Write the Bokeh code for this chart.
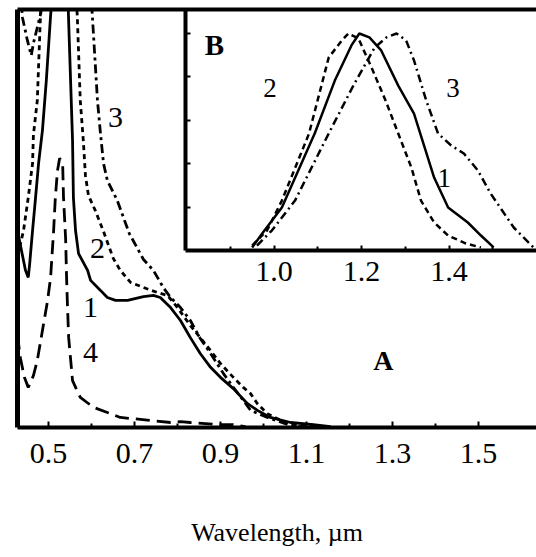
from bokeh.plotting import figure
from bokeh.models import Range1d, LinearAxis, FixedTicker, NumeralTickFormatter
from bokeh.layouts import column
from bokeh.embed import file_html
from bokeh.resources import INLINE
from bokeh.core.properties import value

FONT = "Liberation Serif"

# ---------------- Panel A (main): absorption, wavelength in um ----------------
a1_x = [0.428, 0.435, 0.4465, 0.453, 0.456, 0.463, 0.470, 0.477, 0.486, 0.495, 0.505, 0.510,
        0.528, 0.545, 0.5465, 0.556, 0.558, 0.563, 0.570, 0.591, 0.598, 0.621, 0.637, 0.656,
        0.684, 0.721, 0.744, 0.760, 0.784, 0.807, 0.830, 0.853, 0.877, 0.900, 0.930, 0.963,
        0.986, 1.016, 1.063, 1.116, 1.156]
a1_y = [0.471, 0.435, 0.376, 0.359, 0.388, 0.471, 0.550, 0.632, 0.711, 0.830, 0.986, 1.05,
        1.4, 1.05, 0.986, 0.687, 0.550, 0.471, 0.416, 0.376, 0.352, 0.328, 0.311, 0.304,
        0.304, 0.313, 0.316, 0.311, 0.287, 0.256, 0.215, 0.177, 0.144, 0.120, 0.093, 0.057,
        0.041, 0.024, 0.012, 0.007, 0.002]

a2_x = [0.428, 0.435, 0.442, 0.453, 0.463, 0.465, 0.474, 0.481, 0.484, 0.52, 0.565, 0.567,
        0.574, 0.581, 0.586, 0.593, 0.609, 0.628, 0.651, 0.667, 0.691, 0.721, 0.753, 0.777,
        0.800, 0.830, 0.853, 0.877, 0.900, 0.930, 0.953, 0.970, 0.986, 1.009, 1.040, 1.074, 1.12]
a2_y = [0.411, 0.440, 0.471, 0.550, 0.632, 0.700, 0.782, 0.974, 1.02, 1.4, 1.02, 0.986,
        0.782, 0.687, 0.603, 0.555, 0.519, 0.469, 0.404, 0.376, 0.347, 0.335, 0.323, 0.316,
        0.287, 0.244, 0.215, 0.184, 0.153, 0.120, 0.096, 0.081, 0.057, 0.033, 0.017, 0.007, 0.002]

a3_x = [0.436, 0.4395, 0.451, 0.460, 0.465, 0.474, 0.481, 0.484, 0.54, 0.600, 0.602, 0.614,
        0.621, 0.628, 0.637, 0.660, 0.688, 0.721, 0.744, 0.767, 0.784, 0.807, 0.830, 0.853,
        0.877, 0.907, 0.930, 0.953, 0.970, 1.009, 1.063, 1.10]
a3_y = [1.03, 0.981, 0.926, 0.890, 0.919, 0.957, 0.986, 1.01, 1.4, 1.02, 0.986, 0.782,
        0.703, 0.632, 0.591, 0.543, 0.464, 0.402, 0.376, 0.335, 0.311, 0.287, 0.256, 0.213,
        0.177, 0.129, 0.096, 0.065, 0.041, 0.024, 0.005, 0.0]

a4_x = [0.428, 0.435, 0.444, 0.453, 0.465, 0.474, 0.486, 0.498, 0.505, 0.512, 0.516, 0.521,
        0.526, 0.533, 0.535, 0.540, 0.542, 0.544, 0.547, 0.556, 0.574, 0.605, 0.637, 0.667,
        0.737, 0.784, 0.807, 0.830, 0.893, 0.930, 0.958]
a4_y = [0.220, 0.165, 0.120, 0.096, 0.124, 0.160, 0.232, 0.304, 0.359, 0.471, 0.550, 0.615,
        0.644, 0.632, 0.550, 0.450, 0.364, 0.297, 0.215, 0.112, 0.072, 0.048, 0.036, 0.024,
        0.017, 0.012, 0.014, 0.012, 0.007, 0.007, 0.002]

a_ticks = [0.5, 0.7, 0.9, 1.1, 1.3, 1.5]
a_minor = [0.6, 0.8, 1.0, 1.2, 1.4]
a_lab_text = ["3", "2", "1", "4"]
a_lab_x = [0.656, 0.614, 0.598, 0.598]
a_lab_y = [0.742, 0.428, 0.287, 0.179]

# ---------------- Panel B (inset): normalized emission ----------------
b1_x = [0.950, 0.973, 1.018, 1.093, 1.139, 1.177, 1.195, 1.218, 1.245, 1.284, 1.320, 1.366,
        1.398, 1.443, 1.473, 1.502]
b1_y = [0.014, 0.078, 0.198, 0.539, 0.783, 0.945, 1.0, 0.982, 0.922, 0.760, 0.631, 0.336,
        0.198, 0.129, 0.069, 0.014]
b2_x = [0.950, 0.984, 1.018, 1.080, 1.125, 1.155, 1.170, 1.193, 1.223, 1.255, 1.284, 1.314,
        1.336, 1.366, 1.398, 1.439, 1.473]
b2_y = [0.023, 0.092, 0.230, 0.539, 0.889, 0.968, 1.0, 0.977, 0.843, 0.691, 0.539, 0.382,
        0.230, 0.129, 0.069, 0.032, 0.014]
b3_x = [0.961, 0.995, 1.048, 1.125, 1.184, 1.230, 1.257, 1.280, 1.302, 1.320, 1.348, 1.375,
        1.405, 1.434, 1.466, 1.495, 1.548, 1.593]
b3_y = [0.023, 0.092, 0.230, 0.539, 0.770, 0.935, 0.982, 1.0, 0.968, 0.876, 0.691, 0.539,
        0.484, 0.447, 0.369, 0.263, 0.106, 0.014]

b_ticks = [1.0, 1.2, 1.4]
b_minor = [0.9, 1.1, 1.3, 1.5]
b_yticks = [0.2, 0.4, 0.6, 0.8, 1.0]
b_lab_text = ["2", "3", "1"]
b_lab_x = [0.991, 1.409, 1.389]
b_lab_y = [0.747, 0.747, 0.336]

# ---------------- inset figure ----------------
inset = figure(width=368, height=300, output_backend="svg", toolbar_location=None,
               x_range=Range1d(0.7977, 1.6), y_range=Range1d(0, 1.1106),
               min_border_left=15, min_border_right=0, min_border_top=9, min_border_bottom=50)
inset.outline_line_color = None
inset.grid.visible = False
inset.background_fill_color = "white"
inset.border_fill_color = None

inset.xaxis.ticker = FixedTicker(ticks=b_ticks, minor_ticks=b_minor)
inset.xaxis.formatter = NumeralTickFormatter(format="0.0")
inset.xaxis.axis_line_width = 4
inset.xaxis.axis_line_color = "black"
inset.xaxis.major_tick_in = 5
inset.xaxis.major_tick_out = 0
inset.xaxis.minor_tick_in = 4
inset.xaxis.minor_tick_out = 0
inset.xaxis.major_tick_line_width = 2
inset.xaxis.minor_tick_line_width = 2
inset.xaxis.major_label_text_font = FONT
inset.xaxis.major_label_text_font_size = "30px"
inset.xaxis.major_label_text_color = "black"
inset.xaxis.major_label_text_line_height = 1.0
inset.xaxis.major_label_standoff = 11

inset.yaxis.ticker = FixedTicker(ticks=[], minor_ticks=b_yticks)
inset.yaxis.axis_line_width = 4
inset.yaxis.axis_line_color = "black"
inset.yaxis.major_tick_line_color = None
inset.yaxis.minor_tick_in = 5
inset.yaxis.minor_tick_out = 0
inset.yaxis.minor_tick_line_width = 2
inset.yaxis.major_label_standoff = 0

inset.line(b1_x, b1_y, line_color="black", line_width=2.5)
inset.line(b2_x, b2_y, line_color="black", line_width=2.5, line_dash="6 4")
inset.line(b3_x, b3_y, line_color="black", line_width=2.5, line_dash="8 4 2 4")
inset.text(x=b_lab_x, y=b_lab_y, text=b_lab_text, text_font=value(FONT),
           text_font_size="27px", text_align="center", text_baseline="middle", text_color="black")
inset.text(x=[0.864], y=[0.945], text=["B"], text_font=value(FONT), text_font_style="bold",
           text_font_size="29px", text_align="center", text_baseline="middle", text_color="black")

# ---------------- main figure ----------------
p = figure(width=536, height=557, output_backend="svg", toolbar_location=None,
           x_range=Range1d(0.428, 1.635), y_range=Range1d(0, 1.0),
           min_border_left=17, min_border_right=0, min_border_top=9, min_border_bottom=130)
p.outline_line_color = None
p.grid.visible = False
p.background_fill_color = None
p.border_fill_color = None

p.xaxis.ticker = FixedTicker(ticks=a_ticks, minor_ticks=a_minor)
p.xaxis.formatter = NumeralTickFormatter(format="0.0")
p.xaxis.axis_line_width = 4
p.xaxis.axis_line_color = "black"
p.xaxis.major_tick_in = 6
p.xaxis.major_tick_out = 0
p.xaxis.minor_tick_in = 4
p.xaxis.minor_tick_out = 0
p.xaxis.major_tick_line_width = 2
p.xaxis.minor_tick_line_width = 2
p.xaxis.major_label_text_font = FONT
p.xaxis.major_label_text_font_size = "30px"
p.xaxis.major_label_text_color = "black"
p.xaxis.major_label_text_line_height = 1.0
p.xaxis.major_label_standoff = 16
p.xaxis.axis_label = "Wavelength, µm"
p.xaxis.axis_label_text_font = FONT
p.xaxis.axis_label_text_font_size = "26px"
p.xaxis.axis_label_text_font_style = "normal"
p.xaxis.axis_label_text_color = "black"
p.xaxis.axis_label_text_line_height = 1.0
p.xaxis.axis_label_standoff = 52

p.yaxis.ticker = FixedTicker(ticks=[])
p.yaxis.axis_line_width = 5
p.yaxis.axis_line_color = "black"
p.yaxis.major_tick_line_color = None
p.yaxis.minor_tick_line_color = None
p.yaxis.major_label_standoff = 0

top = LinearAxis(ticker=FixedTicker(ticks=[]), axis_line_width=4, axis_line_color="black",
                 major_tick_line_color=None, minor_tick_line_color=None,
                 major_label_standoff=0)
p.add_layout(top, "above")

p.line(a1_x, a1_y, line_color="black", line_width=2.8)
p.line(a2_x, a2_y, line_color="black", line_width=2.8, line_dash="5 4")
p.line(a3_x, a3_y, line_color="black", line_width=2.8, line_dash="9 4 3 4")
p.line(a4_x, a4_y, line_color="black", line_width=2.8, line_dash="14 7")
p.text(x=a_lab_x, y=a_lab_y, text=a_lab_text, text_font=value(FONT),
       text_font_size="30px", text_align="center", text_baseline="middle", text_color="black")
p.text(x=[1.279], y=[0.160], text=["A"], text_font=value(FONT), text_font_style="bold",
       text_font_size="28px", text_align="center", text_baseline="middle", text_color="black")

inset.margin = (0, 0, 0, 168)
p.margin = (-300, 0, 0, 0)
layout = column(inset, p)

open("out.html", "w").write(file_html(layout, INLINE))
